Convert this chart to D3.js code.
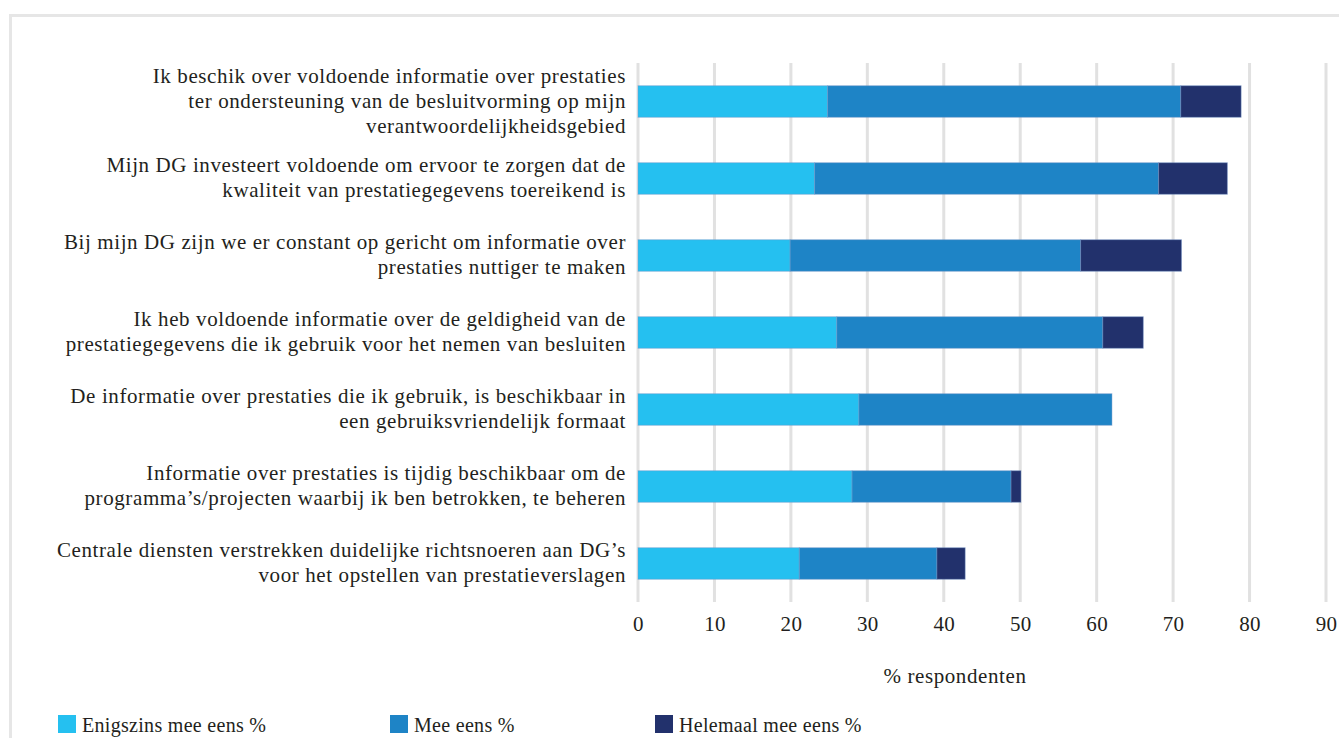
<!DOCTYPE html>
<html>
<head>
<meta charset="utf-8">
<script src="https://cdn.jsdelivr.net/npm/d3@7/dist/d3.min.js"></script>
<style>
  html, body { margin: 0; padding: 0; background: #fff; }
  svg { display: block; }
  text { font-family: "Liberation Serif", "DejaVu Serif", serif; fill: #231f20; }
</style>
</head>
<body>
<script>
// Survey statements (top to bottom), each split into its display lines
const statements = [
  ["Ik beschik over voldoende informatie over prestaties", "ter ondersteuning van de besluitvorming op mijn", "verantwoordelijkheidsgebied"],
  ["Mijn DG investeert voldoende om ervoor te zorgen dat de", "kwaliteit van prestatiegegevens toereikend is"],
  ["Bij mijn DG zijn we er constant op gericht om informatie over", "prestaties nuttiger te maken"],
  ["Ik heb voldoende informatie over de geldigheid van de", "prestatiegegevens die ik gebruik voor het nemen van besluiten"],
  ["De informatie over prestaties die ik gebruik, is beschikbaar in", "een gebruiksvriendelijk formaat"],
  ["Informatie over prestaties is tijdig beschikbaar om de", "programma\u2019s/projecten waarbij ik ben betrokken, te beheren"],
  ["Centrale diensten verstrekken duidelijke richtsnoeren aan DG\u2019s", "voor het opstellen van prestatieverslagen"]
];

// Percentage of respondents per answer
const enigszins = [24.8, 23.1, 19.9, 26.0, 28.9, 28.0, 21.1];
const meeEens   = [46.2, 45.0, 38.0, 34.8, 33.1, 20.8, 18.0];
const helemaal  = [7.9, 9.0, 13.2, 5.3, 0, 1.3, 3.7];

const seriesNames = ["Enigszins mee eens %", "Mee eens %", "Helemaal mee eens %"];
const seriesColors = ["#25c0f0", "#1e84c6", "#22316c"];
const xTicks = [0, 10, 20, 30, 40, 50, 60, 70, 80, 90];
const xTitle = "% respondenten";

const W = 1339, H = 738;
const plot = { left: 638, right: 1326, top: 63, bottom: 602 };
const fontSize = "21px";
const spacing = "0.6px";

const svg = d3.select("body").append("svg").attr("width", W).attr("height", H);

// outer frame
svg.append("rect")
  .attr("x", 10.5).attr("y", 15.5)
  .attr("width", 1400).attr("height", 800)
  .attr("fill", "none").attr("stroke", "#e6e6e6").attr("stroke-width", 3);

const x = d3.scaleLinear().domain([0, 90]).range([plot.left, plot.right]);
const y = d3.scaleBand()
  .domain(d3.range(statements.length))
  .range([plot.top, plot.bottom])
  .paddingInner(0.59).paddingOuter(0.295);

// vertical gridlines
svg.append("g").selectAll("line").data(xTicks).join("line")
  .attr("x1", d => x(d)).attr("x2", d => x(d))
  .attr("y1", plot.top).attr("y2", plot.bottom)
  .attr("stroke", "#e1e1e1").attr("stroke-width", 3);

// x axis tick labels
const xAxis = d3.axisBottom(x).tickValues(xTicks).tickSize(0).tickPadding(0).tickFormat(d3.format("d"));
const gx = svg.append("g").attr("transform", `translate(0,${plot.bottom})`).call(xAxis);
gx.select(".domain").remove();
gx.selectAll("text")
  .attr("y", 29).attr("dy", 0)
  .style("font-family", "'Liberation Serif', serif")
  .style("font-size", fontSize).style("letter-spacing", "0.3px")
  .attr("fill", "#231f20");

// stacked bars
const rows = statements.map((s, i) => ({ i, vals: [enigszins[i], meeEens[i], helemaal[i]] }));
const stack = d3.stack().keys([0, 1, 2]).value((d, k) => d.vals[k]);
const layers = stack(rows);

svg.append("g").selectAll("g").data(layers).join("g")
  .attr("fill", (d, k) => seriesColors[k])
  .selectAll("rect").data(d => d.filter(p => p[1] - p[0] > 0)).join("rect")
  .attr("x", p => x(p[0]))
  .attr("width", p => x(p[1]) - x(p[0]))
  .attr("y", p => y(p.data.i))
  .attr("height", y.bandwidth())
  .attr("stroke", "rgba(120,150,200,0.45)").attr("stroke-width", 1);

// category labels, right-aligned, centred on each bar
const lineH = 25;
const labels = svg.append("g");
statements.forEach((lines, i) => {
  const cy = y(i) + y.bandwidth() / 2;
  const t = labels.append("text")
    .attr("text-anchor", "end")
    .style("font-size", fontSize)
    .style("letter-spacing", spacing);
  lines.forEach((ln, j) => {
    t.append("tspan")
      .attr("x", 626)
      .attr("y", cy + (j - (lines.length - 1) / 2) * lineH + 6)
      .text(ln);
  });
});

// axis title
svg.append("text")
  .attr("x", 955).attr("y", 683)
  .attr("text-anchor", "middle")
  .style("font-size", fontSize)
  .style("letter-spacing", spacing)
  .text(xTitle);

// legend
const legendX = [58, 390, 655];
const lg = svg.append("g");
seriesNames.forEach((name, k) => {
  lg.append("rect")
    .attr("x", legendX[k]).attr("y", 715)
    .attr("width", 18).attr("height", 18)
    .attr("fill", seriesColors[k]);
  lg.append("text")
    .attr("x", legendX[k] + 24).attr("y", 732)
    .style("font-size", "20px")
    .style("letter-spacing", "0.3px")
    .text(name);
});
</script>
</body>
</html>
